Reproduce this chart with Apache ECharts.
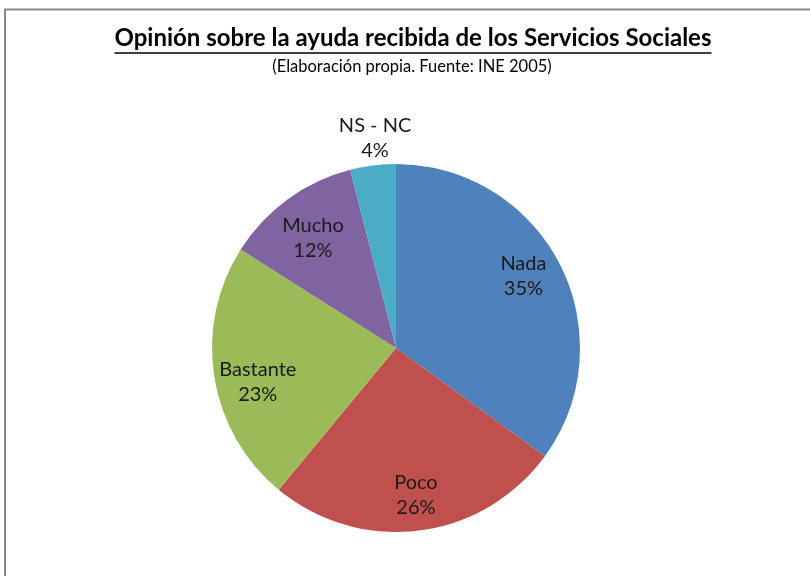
<!DOCTYPE html>
<html>
<head>
<meta charset="utf-8">
<script src="https://cdn.jsdelivr.net/npm/echarts@6/dist/echarts.min.js"></script>
<style>
  html, body { margin: 0; padding: 0; background: #fff; }
  #chart { width: 810px; height: 576px; }
</style>
</head>
<body>
<div id="chart"></div>
<script>
// Opinion on help received from Social Services (INE 2005)
const categories = ['Nada', 'Poco', 'Bastante', 'Mucho', 'NS - NC'];
const percentages = [35, 26, 23, 12, 4];
const sliceColors = ['#4F81BD', '#C0504D', '#9BBB59', '#8064A2', '#4BACC6'];

const titleText = 'Opinión sobre la ayuda recibida de los Servicios Sociales';
const subtitleText = '(Elaboración propia. Fuente: INE 2005)';

const FONT = 'Lato, "Open Sans", sans-serif';
const CX = 396, CY = 348, R = 184;

// nudges so each label sits where it reads best inside its slice
const labelNudge = {
  'Nada': [0, -7], 'Poco': [2, 5], 'Bastante': [3, 12], 'Mucho': [1, 6], 'NS - NC': [-3, -68]
};

// measure the title so the underline spans exactly the text
const ctx = document.createElement('canvas').getContext('2d');
ctx.font = 'bold 24px ' + FONT;
const titleW = ctx.measureText(titleText).width;
const TITLE_X = 413;

const pieData = categories.map((name, i) => ({
  name, value: percentages[i], itemStyle: { color: sliceColors[i] }
}));

// label ring: transparent ring whose middle sits where the labels go
const labelData = categories.map((name, i) => ({
  name, value: percentages[i], itemStyle: { color: 'transparent' },
  label: { offset: labelNudge[name] }
}));

const chart = echarts.init(document.getElementById('chart'), null, { renderer: 'canvas' });
chart.setOption({
  backgroundColor: '#ffffff',
  animation: false,
  title: [
    {
      text: titleText, left: TITLE_X, top: 26, textAlign: 'center', padding: 0,
      textStyle: { fontFamily: FONT, fontSize: 24, fontWeight: 'bold', color: '#000' }
    },
    {
      text: subtitleText, left: 412, top: 58, textAlign: 'center', padding: 0,
      textStyle: { fontFamily: FONT, fontSize: 16.5, fontWeight: 'normal', color: '#000' }
    }
  ],
  graphic: [
    { type: 'rect', silent: true, shape: { x: 5, y: 9.5, width: 900, height: 700 },
      style: { fill: 'none', stroke: '#8a8a8a', lineWidth: 2 } },
    { type: 'line', silent: true,
      shape: { x1: TITLE_X - titleW / 2, y1: 53, x2: TITLE_X + titleW / 2, y2: 53 },
      style: { stroke: '#000', lineWidth: 1.5 } }
  ],
  series: [
    {
      type: 'pie', center: [CX, CY], radius: [0, R], startAngle: 90, clockwise: true,
      label: { show: false }, labelLine: { show: false }, silent: true,
      itemStyle: { borderWidth: 0 },
      data: pieData
    },
    {
      type: 'pie', center: [CX, CY], radius: [96, R], startAngle: 90, clockwise: true,
      silent: true, labelLine: { show: false },
      label: {
        show: true, position: 'inside', formatter: '{b}\n{c}%',
        fontFamily: FONT, fontSize: 20, lineHeight: 25, color: '#1a1a1a', align: 'center'
      },
      data: labelData
    }
  ]
});
</script>
</body>
</html>
